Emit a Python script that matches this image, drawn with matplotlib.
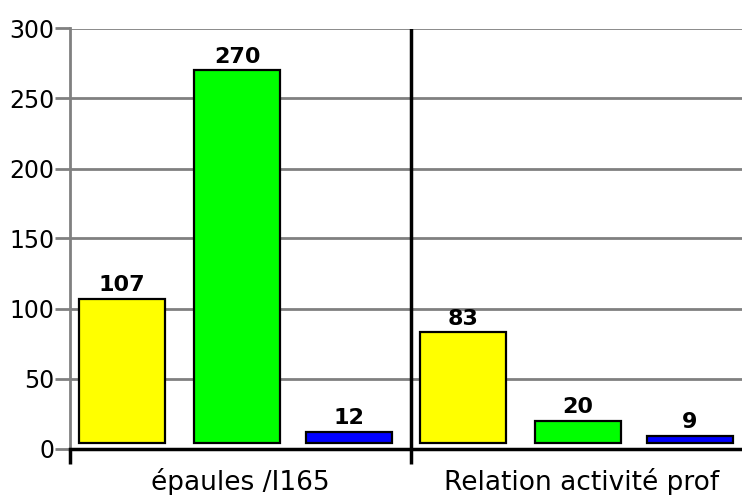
import matplotlib
matplotlib.use("Agg")
import matplotlib.pyplot as plt
import numpy as np

plt.rcParams['font.family'] = ['DejaVu Sans']

# données
categories = ['épaules /I165', 'Relation activité prof']
yellow_vals = [107, 83]
green_vals = [270, 20]
blue_vals = [12, 9]
y_ticks = [0, 50, 100, 150, 200, 250, 300]

series = [yellow_vals, green_vals, blue_vals]
colors = ['#FFFF00', '#00FF00', '#0000FF']
offsets = [0.152, 0.490, 0.818]   # centre des barres dans chaque groupe
bar_w = 0.252
base = 4                          # les barres démarrent un peu au-dessus de 0

fig = plt.figure(figsize=(7.42, 4.95), dpi=100)
ax = fig.add_axes([70 / 742, 46.5 / 495, 682 / 742, 420 / 495])

grey = '#808080'
for yv in y_ticks:
    ax.axhline(yv, color=grey, lw=2, zorder=1)

x0 = np.arange(len(categories))
for vals, col, off in zip(series, colors, offsets):
    xs = x0 + off
    heights = [v - base for v in vals]
    ax.bar(xs, heights, bottom=base, width=bar_w, color=col,
           edgecolor='black', linewidth=1.6, zorder=3)
    for x, v in zip(xs, vals):
        ax.text(x, v + 2.5, str(v), ha='center', va='bottom',
                fontsize=16, fontweight='bold', zorder=4)

# séparateur entre les groupes
for b in x0[1:]:
    ax.axvline(b, color='black', lw=2.5, zorder=2)

ax.set_xlim(0, len(categories))
ax.set_ylim(0, 300)

ax.spines['top'].set_visible(False)
ax.spines['right'].set_visible(False)
ax.spines['left'].set_color(grey)
ax.spines['left'].set_linewidth(2)
ax.spines['bottom'].set_color('black')
ax.spines['bottom'].set_linewidth(2.5)
ax.spines['bottom'].set_zorder(5)

ax.set_yticks(y_ticks)
ax.tick_params(axis='y', direction='out', length=11, width=2, color=grey,
               labelsize=17, pad=0)

ax.set_xticks(np.arange(len(categories) + 1))
ax.set_xticklabels([])
ax.tick_params(axis='x', which='major', direction='out', length=11,
               width=2.5, color='black')
ax.set_xticks(x0 + 0.5, minor=True)
ax.set_xticklabels(categories, minor=True)
ax.tick_params(axis='x', which='minor', length=0, labelsize=19, pad=14)

fig.savefig('out.png', dpi=100)
